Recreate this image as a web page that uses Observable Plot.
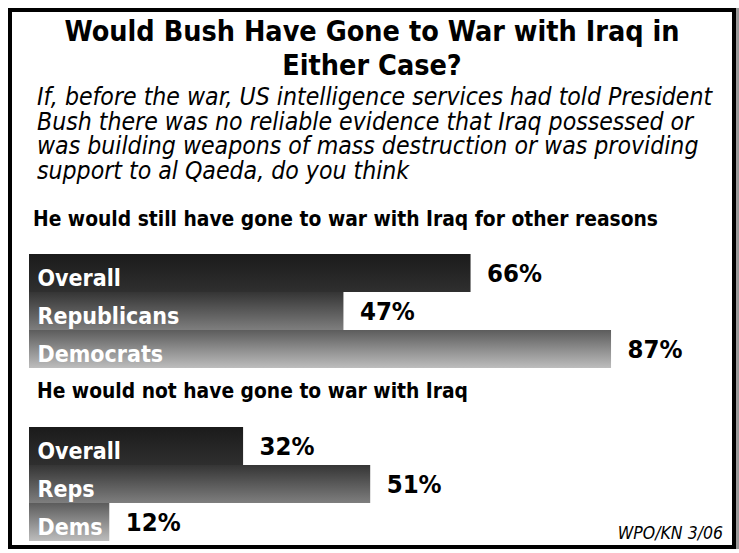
<!DOCTYPE html>
<html>
<head>
<meta charset="utf-8">
<script src="https://cdn.jsdelivr.net/npm/d3@7"></script>
<script src="https://cdn.jsdelivr.net/npm/@observablehq/plot@0.6"></script>
<style>
  html, body { margin: 0; padding: 0; background: #fff; }
  body { width: 739px; height: 553px; position: relative; overflow: hidden;
         font-family: "DejaVu Sans Condensed", "DejaVu Sans", sans-serif; font-stretch: condensed; color: #000; }
  #frame { position: absolute; left: 8px; top: 8px; width: 728px; height: 541px; box-sizing: border-box;
           border: 4px solid #000; box-shadow: 3px 0 0 #999; }
  .abs { position: absolute; white-space: pre; }
  #title { left: 8px; width: 728px; top: 15px; text-align: center; font-weight: bold; font-size: 28.5px; line-height: 34px; }
  #subtitle { left: 37px; top: 85px; font-style: italic; font-size: 24.6px; line-height: 24.6px; }
  .section { font-weight: bold; font-size: 20.8px; }
  #caption { right: 16px; top: 523px; font-style: italic; font-size: 17.5px; }
  .plot { position: absolute; left: 0; }
</style>
</head>
<body>
<div id="frame"></div>
<div id="title" class="abs">Would Bush Have Gone to War with Iraq in
Either Case?</div>
<div id="subtitle" class="abs">If, before the war, US intelligence services had told President
Bush there was no reliable evidence that Iraq possessed or
was building weapons of mass destruction or was providing
support to al Qaeda, do you think</div>
<div id="sec1" class="abs section" style="left:33px; top:207px;">He would still have gone to war with Iraq for other reasons</div>
<div id="sec2" class="abs section" style="left:37px; top:379px;">He would not have gone to war with Iraq</div>
<div id="caption" class="abs">WPO/KN 3/06</div>
<div id="p1" class="plot" style="top:254px;"></div>
<div id="p2" class="plot" style="top:427px;"></div>
<script>
// Data
const stillCategories = ["Overall", "Republicans", "Democrats"];
const stillValues = [66, 47, 87];
const notCategories = ["Overall", "Reps", "Dems"];
const notValues = [32, 51, 12];

// gradient definitions (top colour, bottom colour) per row position
const gradients = [
  ["#1b1b1b", "#2f2f2f"],
  ["#353535", "#7e7e7e"],
  ["#5c5c5c", "#bdbdbd"]
];

function makeChart(id, categories, values) {
  const data = categories.map((c, i) => ({category: c, value: values[i], grad: `url(#${id}-g${i})`}));
  const defs = () => {
    const ns = "http://www.w3.org/2000/svg";
    const d = document.createElementNS(ns, "defs");
    gradients.forEach((g, i) => {
      const lg = document.createElementNS(ns, "linearGradient");
      lg.setAttribute("id", `${id}-g${i}`);
      lg.setAttribute("x1", "0"); lg.setAttribute("y1", "0");
      lg.setAttribute("x2", "0"); lg.setAttribute("y2", "1");
      [[0, g[0]], [1, g[1]]].forEach(([o, c]) => {
        const s = document.createElementNS(ns, "stop");
        s.setAttribute("offset", o);
        s.setAttribute("stop-color", c);
        lg.appendChild(s);
      });
      d.appendChild(lg);
    });
    return d;
  };
  return Plot.plot({
    width: 739,
    height: 114,
    marginLeft: 29,
    marginRight: 41,
    marginTop: 0,
    marginBottom: 0,
    style: {fontFamily: '"DejaVu Sans Condensed", "DejaVu Sans", sans-serif', background: "transparent", overflow: "visible"},
    x: {domain: [0, 100], axis: null},
    y: {domain: categories, axis: null, padding: 0},
    color: {type: "identity"},
    marks: [
      defs,
      Plot.barX(data, {x: "value", y: "category", fill: "grad"}),
      Plot.text(data, {x: 0, y: "category", text: "category", dx: 8, dy: 12, lineAnchor: "bottom",
        textAnchor: "start", fill: "#fff", fontWeight: "bold", fontSize: 23}),
      Plot.text(data, {x: "value", y: "category", text: d => d.value + "%", dx: 16,
        textAnchor: "start", fill: "#000", fontWeight: "bold", fontSize: 25.5})
    ]
  });
}

document.getElementById("p1").appendChild(makeChart("a", stillCategories, stillValues));
document.getElementById("p2").appendChild(makeChart("b", notCategories, notValues));
</script>
</body>
</html>
